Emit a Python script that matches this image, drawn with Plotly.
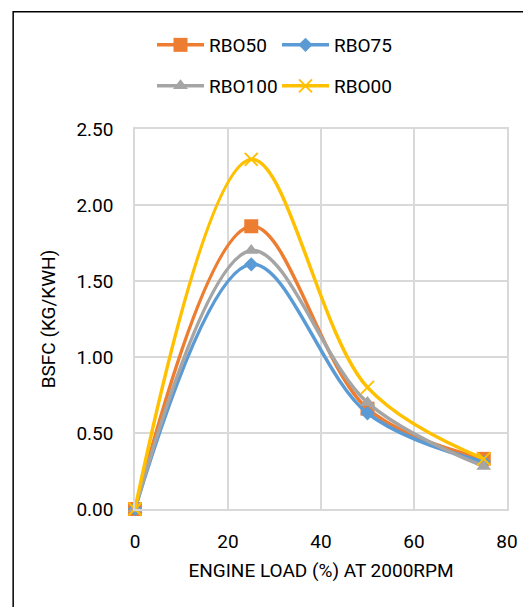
import plotly.graph_objects as go

load = [0, 25, 50, 75]
rbo50 = [0.0, 1.86, 0.66, 0.33]
rbo75 = [0.0, 1.61, 0.63, 0.31]
rbo100 = [0.0, 1.70, 0.70, 0.28]
rbo00 = [0.0, 2.30, 0.80, 0.33]

x_ticks = [0, 20, 40, 60, 80]
y_ticks = [0.0, 0.5, 1.0, 1.5, 2.0, 2.5]
y_tick_labels = ["0.00", "0.50", "1.00", "1.50", "2.00", "2.50"]

FONT = "Roboto"
FS = 19
W, H = 523, 599
L, R, T, B = 126.5, 24, 121, 97.5
PW, PH = W - L - R, H - T - B

series = [
    ("RBO50", rbo50, "#ED7D31", dict(symbol="square", size=14), "legend"),
    ("RBO75", rbo75, "#5B9BD5", dict(symbol="diamond", size=11), "legend"),
    ("RBO100", rbo100, "#A5A5A5", dict(symbol="triangle-up", size=13), "legend2"),
    ("RBO00", rbo00, "#FFC000", dict(symbol="x-thin-open", size=13, line=dict(width=2, color="#FFC000")), "legend2"),
]

fig = go.Figure()
for name, vals, color, marker, leg in series:
    fig.add_trace(go.Scatter(
        x=load, y=vals, name=name, mode="lines+markers",
        line=dict(color=color, width=3.5, shape="spline", smoothing=1.0),
        marker=dict(color=color, **marker),
        cliponaxis=False,
        legend=leg,
    ))

leg_common = dict(orientation="h", xref="container", yref="container",
                  xanchor="left", yanchor="middle", entrywidth=63, itemwidth=47,
                  font=dict(family=FONT, size=FS, color="#000"),
                  bgcolor="rgba(0,0,0,0)")

axis_font = dict(family=FONT, size=FS, color="#000")
fig.update_layout(
    width=W, height=H,
    margin=dict(l=L, r=R, t=T, b=B),
    paper_bgcolor="white", plot_bgcolor="white",
    font=dict(family=FONT, size=FS, color="#000"),
    legend=dict(x=144 / W, y=1 - 37 / H, **leg_common),
    legend2=dict(x=144 / W, y=1 - 78 / H, **leg_common),
    xaxis=dict(range=[0, 80], tickvals=x_ticks, showgrid=True, gridcolor="#D9D9D9",
               gridwidth=1.5, zeroline=False, showline=True, linecolor="#D9D9D9",
               linewidth=1.5, mirror=True, ticks="", ticklabelstandoff=14,
               tickfont=axis_font,
               title=dict(text="ENGINE LOAD (%) AT 2000RPM", standoff=12, font=axis_font)),
    yaxis=dict(range=[0, 2.5], tickvals=y_ticks, ticktext=y_tick_labels, showgrid=True,
               gridcolor="#D9D9D9", gridwidth=1.5, zeroline=False, showline=True,
               linecolor="#D9D9D9", linewidth=1.5, mirror=True, ticks="",
               ticklabelstandoff=16, tickfont=axis_font,
               title=dict(text="BSFC (KG/KWH)", standoff=16, font=axis_font)),
    shapes=[dict(type="rect", xref="paper", yref="paper",
                 x0=(4.5 - L) / PW, x1=(W + 20 - L) / PW,
                 y0=(PH - (H + 20 - T)) / PH, y1=(PH - (3.5 - T)) / PH,
                 line=dict(color="#000", width=1.5), fillcolor="rgba(0,0,0,0)",
                 layer="below")],
)

fig.write_html("out.html")
